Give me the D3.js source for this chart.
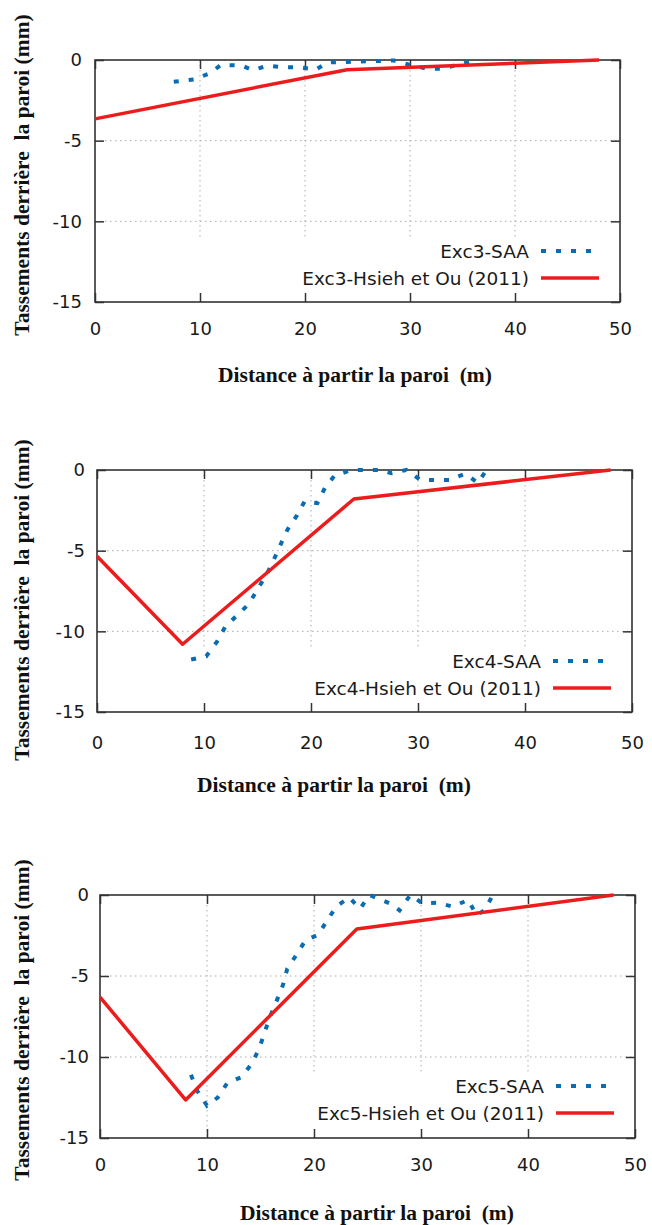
<html>
<head>
<meta charset="utf-8">
<script src="https://d3js.org/d3.v7.min.js"></script>
<style>
  body { margin: 0; background: #fff; }
  .tick text { font-family: "DejaVu Sans", Verdana, sans-serif; font-size: 18px; fill: #1a1a1a; }
  .ttl { font-family: "Liberation Serif", "Times New Roman", serif; font-weight: bold; font-size: 21.5px; fill: #111; }
  .leg { font-family: "DejaVu Sans", Verdana, sans-serif; font-size: 18.5px; fill: #1a1a1a; }
</style>
</head>
<body>
<div id="chart"></div>
<script>
// ticks shared by the three panels
var xTickValues = [0, 10, 20, 30, 40, 50];
var yTickValues = [0, -5, -10, -15];
var xGrid = [10, 20, 30, 40];
var yGrid = [-5, -10];

// Exc3
var exc3SaaX = [7.5, 9.5, 11, 12, 14, 15, 16.5, 18, 19.5, 21, 22.2, 24, 28.5, 30, 31.5, 33, 34.5, 36];
var exc3SaaY = [-1.35, -1.2, -0.8, -0.3, -0.35, -0.62, -0.35, -0.45, -0.45, -0.6, -0.15, -0.12, -0.03, -0.3, -0.52, -0.55, -0.3, -0.05];
var exc3HsiehX = [0, 24, 48];
var exc3HsiehY = [-3.65, -0.6, 0];

// Exc4
var exc4SaaX = [8.8, 10.2, 11.2, 12, 13.1, 14.2, 15, 15.9, 16.5, 17.1, 17.8, 18.7, 19.4, 20.6, 21.3, 22.2, 23.8, 26.5, 27.5, 28.9, 30.2, 31.5, 32.9, 34.4, 35.6, 36.4];
var exc4SaaY = [-11.75, -11.55, -10.65, -9.7, -9.0, -8.3, -7.4, -6.4, -5.6, -4.7, -3.7, -2.8, -1.95, -2.05, -1.1, -0.35, 0, 0, -0.2, 0, -0.6, -0.62, -0.62, -0.23, -0.8, 0];
var exc4HsiehX = [0, 8, 24, 48];
var exc4HsiehY = [-5.35, -10.8, -1.8, 0];

// Exc5
var exc5SaaX = [8.5, 9.1, 10, 11, 11.9, 13.2, 14.2, 14.9, 15.4, 15.9, 16.5, 17.1, 17.5, 18.4, 19.2, 20.4, 21.2, 22.1, 23.3, 24.3, 25.2, 27.2, 28, 29, 30.1, 31.5, 33, 34.4, 35.2, 36, 36.7];
var exc5SaaY = [-11.1, -12.1, -13, -12.5, -11.6, -11.25, -10.4, -9.45, -8.45, -7.5, -6.55, -5.55, -4.55, -3.65, -2.8, -2.45, -1.6, -0.7, -0.15, -0.85, 0, -0.55, -0.95, 0, -0.5, -0.48, -0.72, -0.3, -1.25, -0.9, 0];
var exc5HsiehX = [0, 8, 24, 48];
var exc5HsiehY = [-6.3, -12.65, -2.1, 0];

var saaNames = ["Exc3-SAA", "Exc4-SAA", "Exc5-SAA"];
var hsiehNames = ["Exc3-Hsieh et Ou (2011)", "Exc4-Hsieh et Ou (2011)", "Exc5-Hsieh et Ou (2011)"];
var yTitle = "Tassements derrière  la paroi (mm)";
var xTitle = "Distance à partir la paroi  (m)";

var blue = "#0a6db4";
var red = "#ec1c1c";

//Canvas
var svg = d3.select("#chart").append("svg")
            .attr("width", 652)
            .attr("height", 1225);

// frame of each panel (pixels)
var panels = [
  {left: 95, right: 620, top: 60, bottom: 302, xPad: 20, yPad: 13, yTitleY: 175, xTitleX: 355, xTitleY: 382, boxFrom: 5,
   saa: [exc3SaaX, exc3SaaY], hsieh: [exc3HsiehX, exc3HsiehY]},
  {left: 97, right: 632, top: 470, bottom: 712, xPad: 24, yPad: 12, yTitleY: 600, xTitleX: 334, xTitleY: 792, boxFrom: 6.5,
   saa: [exc4SaaX, exc4SaaY], hsieh: [exc4HsiehX, exc4HsiehY]},
  {left: 100, right: 635, top: 895, bottom: 1138, xPad: 20, yPad: 11, yTitleY: 1020, xTitleX: 377, xTitleY: 1220, boxFrom: 12,
   saa: [exc5SaaX, exc5SaaY], hsieh: [exc5HsiehX, exc5HsiehY]}
];

// plain hyphen for negative labels, as in the original
var plain = function(d){ return String(d); };

panels.forEach(function(p, k){
  var x = d3.scaleLinear().domain([0, 50]).range([p.left, p.right]);
  var y = d3.scaleLinear().domain([-15, 0]).range([p.bottom, p.top]);
  var g = svg.append("g");

  //Grid
  g.selectAll(".gx").data(xGrid).enter().append("line")
    .attr("x1", function(d){ return x(d); }).attr("x2", function(d){ return x(d); })
    .attr("y1", p.top).attr("y2", p.bottom)
    .attr("stroke", "#aaa").attr("stroke-dasharray", "1.5,3.5");
  g.selectAll(".gy").data(yGrid).enter().append("line")
    .attr("y1", function(d){ return y(d); }).attr("y2", function(d){ return y(d); })
    .attr("x1", p.left).attr("x2", p.right)
    .attr("stroke", "#aaa").attr("stroke-dasharray", "1.5,3.5");

  //Opaque key box
  g.append("rect")
    .attr("x", x(p.boxFrom)).attr("y", y(-11.1))
    .attr("width", p.right - x(p.boxFrom) - 1).attr("height", p.bottom - y(-11.1) - 1)
    .attr("fill", "#fff");

  //Axes (ticks inside, mirrored)
  g.append("g").attr("transform", "translate(0," + p.bottom + ")")
    .call(d3.axisBottom(x).tickValues(xTickValues).tickSize(-9).tickPadding(p.xPad).tickFormat(plain));
  g.append("g").attr("transform", "translate(0," + p.top + ")")
    .call(d3.axisTop(x).tickValues(xTickValues).tickSize(-9).tickFormat(""));
  g.append("g").attr("transform", "translate(" + p.left + ",0)")
    .call(d3.axisLeft(y).tickValues(yTickValues).tickSize(-9).tickPadding(p.yPad).tickFormat(plain));
  g.append("g").attr("transform", "translate(" + p.right + ",0)")
    .call(d3.axisRight(y).tickValues(yTickValues).tickSize(-9).tickFormat(""));
  g.selectAll(".domain").remove();
  g.selectAll(".tick line").attr("stroke", "#333").attr("stroke-width", 1.5);

  g.append("rect")
    .attr("x", p.left).attr("y", p.top)
    .attr("width", p.right - p.left).attr("height", p.bottom - p.top)
    .attr("fill", "none").attr("stroke", "#333").attr("stroke-width", 1.6);

  //Series
  var line = d3.line()
    .x(function(d){ return x(d[0]); })
    .y(function(d){ return y(d[1]); });
  var saa = d3.zip(p.saa[0], p.saa[1]);
  var hs = d3.zip(p.hsieh[0], p.hsieh[1]);

  g.append("path").datum(saa).attr("d", line)
    .attr("fill", "none").attr("stroke", blue).attr("stroke-width", 4)
    .attr("stroke-dasharray", "5,10");
  g.append("path").datum(hs).attr("d", line)
    .attr("fill", "none").attr("stroke", red).attr("stroke-width", 3.5)
    .attr("stroke-linejoin", "round");

  //Legend
  var r1 = p.top + 191, r2 = p.top + 218;
  g.append("text").attr("class", "leg").attr("x", p.right - 91).attr("y", r1 + 6.5)
    .attr("text-anchor", "end").text(saaNames[k]);
  g.append("line").attr("x1", p.right - 79).attr("x2", p.right - 24)
    .attr("y1", r1).attr("y2", r1)
    .attr("stroke", blue).attr("stroke-width", 4).attr("stroke-dasharray", "5,10");
  g.append("text").attr("class", "leg").attr("x", p.right - 91).attr("y", r2 + 6.5)
    .attr("text-anchor", "end").text(hsiehNames[k]);
  g.append("line").attr("x1", p.right - 79).attr("x2", p.right - 21)
    .attr("y1", r2).attr("y2", r2)
    .attr("stroke", red).attr("stroke-width", 3.5);

  //Titles
  g.append("text").attr("class", "ttl")
    .attr("transform", "translate(29," + p.yTitleY + ") rotate(-90)")
    .attr("text-anchor", "middle").style("white-space", "pre")
    .text(yTitle);
  g.append("text").attr("class", "ttl")
    .attr("x", p.xTitleX).attr("y", p.xTitleY)
    .attr("text-anchor", "middle").style("white-space", "pre")
    .text(xTitle);
});
</script>
</body>
</html>
